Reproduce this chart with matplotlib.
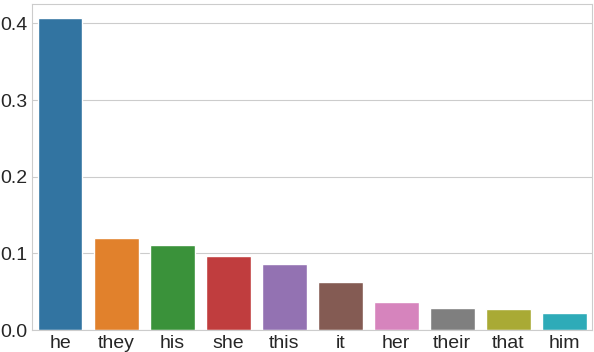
import matplotlib
matplotlib.use("Agg")
import matplotlib.pyplot as plt
import seaborn as sns

words = ["he", "they", "his", "she", "this", "it", "her", "their", "that", "him"]
freqs = [0.4065, 0.120, 0.111, 0.0964, 0.0864, 0.0625, 0.0369, 0.0287, 0.0274, 0.0222]

sns.set_style("whitegrid")
plt.rcParams['font.family'] = ['Arial', 'Liberation Sans', 'DejaVu Sans']

fig, ax = plt.subplots(figsize=(5.94, 3.52), dpi=100)
sns.barplot(x=words, y=freqs, hue=words, palette="tab10", legend=False, ax=ax)
ax.set_ylim(0, 0.426)
ax.set_yticks([0.0, 0.1, 0.2, 0.3, 0.4])
ax.tick_params(labelsize=14, pad=0)
fig.subplots_adjust(left=0.054, right=0.997, top=0.99, bottom=0.062)
fig.savefig("out.png", dpi=100)
